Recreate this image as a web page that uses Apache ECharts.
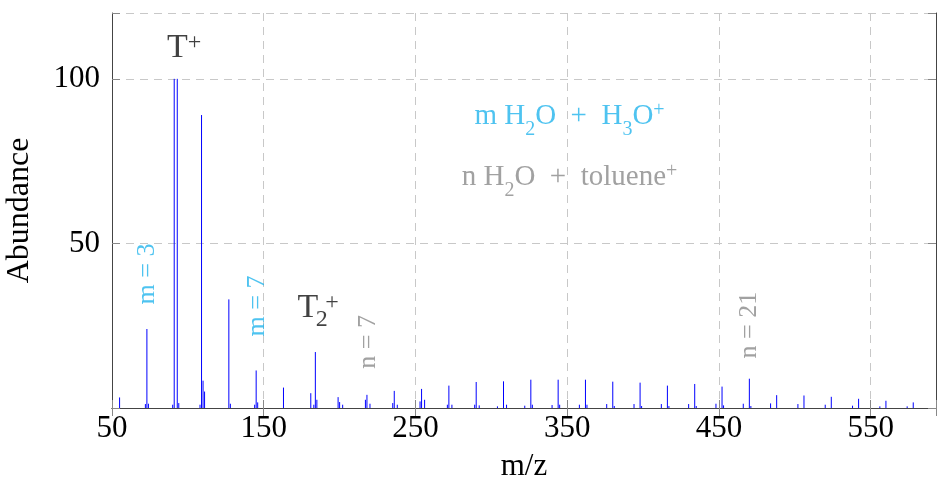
<!DOCTYPE html>
<html><head><meta charset="utf-8">
<script src="https://cdn.jsdelivr.net/npm/echarts@6/dist/echarts.min.js"></script>
<style>html,body{margin:0;padding:0;background:#fff}#c{width:937px;height:489px}</style>
</head><body><div id="c"></div>
<script>
// ---- data ----
const peakMz = [55,72,73,74,90,91,93,94,108,109,110,111,127,128,144,145,146,163,181,183,184,185,
  199,200,202,217,218,220,235,236,238,253,254,256,271,272,274,289,290,292,304,308,310,
  322,326,327,340,344,345,358,362,363,376,380,381,394,398,399,412,416,417,430,434,435,
  448,452,453,466,470,471,484,488,502,506,520,524,538,542,556,560,574,578];
const peakAbundance = [3.2,1.2,24,1.3,1.0,100,100,1.5,1.0,89,8.3,5,33,1.3,1.0,11.4,1.7,6.2,4.5,1.0,17,2.5,
  3.3,1.8,1.0,2.5,4.0,1.3,1.5,5.2,1.0,2.0,5.8,2.5,1.0,6.8,1.0,1.0,7.9,0.8,0.5,8.1,1.0,
  0.7,8.6,1.0,0.9,8.6,1.0,1.0,8.6,1.0,1.2,8.0,0.6,1.2,7.7,0.6,1.2,6.8,0.6,1.2,7.3,0.6,
  1.3,6.5,0.8,1.3,8.9,0.6,1.4,3.9,1.2,3.8,1.0,3.4,0.7,2.8,0.5,2.2,0.5,1.7];
const xTickLabels = [50,150,250,350,450,550];
const yTickLabels = [50,100];
const annotationText = ['{big|T}{bsup|+}', '{a|m H}{sub|2}{a|O\u2002+\u2002H}{sub|3}{a|O}{sup|+}',
  '{a|n H}{sub|2}{a|O\u2002+\u2002toluene}{sup|+}', 'm = 3', 'm = 7', '{big|T}{bsub|2}{bsup|+}', 'n = 7', 'n = 21'];
const annotationMz = [97.6, 351.5, 351.5, 73.3, 145.9, 185.8, 218.5, 469.6];
const annotationAbundance = [109.3, 88.7, 70.1, 40.7, 31, 30.4, 20.1, 25.2];

// ---- styles ----
const FONT = 'Liberation Serif';
const CYAN = '#22b4ec', GRAY = '#8a8a8a', BLACK = '#111';
const annColor = [BLACK, CYAN, GRAY, CYAN, CYAN, BLACK, GRAY, GRAY];
const annRotate = [0, 0, 0, 90, 90, 0, 90, 90];

const rich = {
  a: {fontSize: 29, lineHeight: 44, fontFamily: FONT},
  sub: {fontSize: 20, lineHeight: 44, padding: [27, 0, 0, 0], fontFamily: FONT},
  sup: {fontSize: 20, lineHeight: 44, padding: [0, 0, 11, 0], fontFamily: FONT},
  big: {fontSize: 34, lineHeight: 52, fontFamily: FONT},
  bsub: {fontSize: 24, lineHeight: 52, padding: [23, 0, 0, 0], width: 7, fontFamily: FONT},
  bsup: {fontSize: 24, lineHeight: 52, padding: [0, 0, 11, 0], fontFamily: FONT}
};

const annData = annotationText.map((t, i) => ({
  value: [annotationMz[i], annotationAbundance[i]],
  label: {
    show: true, position: 'inside', formatter: t, color: annColor[i],
    rotate: annRotate[i], fontSize: 26, fontFamily: FONT,
    align: 'center', verticalAlign: 'middle',
    rich: Object.fromEntries(Object.entries(rich).map(([k, v]) => [k, Object.assign({color: annColor[i]}, v)]))
  }
}));

const axisLineStyle = {color: '#444', width: 1};
const tickStyle = {show: true, inside: true, length: 8, lineStyle: {color: '#888', width: 1}};
const splitStyle = {show: true, lineStyle: {color: '#c8c8c8', width: 1, type: [8, 6]}};

const chart = echarts.init(document.getElementById('c'), null, {renderer: 'canvas'});
chart.setOption({
  animation: false,
  backgroundColor: '#fff',
  grid: {left: 112, right: 1, top: 13, bottom: 81, containLabel: false, outerBoundsMode: 'none'},
  xAxis: [{
    type: 'value', min: 50, max: 593, interval: 100, position: 'bottom',
    axisLine: {show: true, lineStyle: axisLineStyle},
    axisTick: tickStyle,
    axisLabel: {fontSize: 31, fontFamily: FONT, color: '#000', margin: 5,
      formatter: v => xTickLabels.includes(v) ? String(v) : ''},
    splitLine: splitStyle,
    name: 'm/z', nameLocation: 'middle', nameGap: 43,
    nameTextStyle: {fontSize: 31, fontFamily: FONT, color: '#000'}
  }, {
    type: 'value', min: 50, max: 593, interval: 100, position: 'top',
    axisLine: {show: true, lineStyle: axisLineStyle},
    axisTick: tickStyle, axisLabel: {show: false}, splitLine: {show: false}
  }],
  yAxis: [{
    type: 'value', min: 0, max: 120, interval: 50, position: 'left',
    axisLine: {show: true, lineStyle: axisLineStyle},
    axisTick: tickStyle,
    axisLabel: {fontSize: 31, fontFamily: FONT, color: '#000', margin: 12,
      formatter: v => yTickLabels.includes(v) ? String(v) : ''},
    splitLine: splitStyle,
    name: 'Abundance', nameLocation: 'middle', nameGap: 76, nameRotate: 90,
    nameTextStyle: {fontSize: 32, fontFamily: FONT, color: '#000'}
  }, {
    type: 'value', min: 0, max: 120, interval: 50, position: 'right',
    axisLine: {show: true, lineStyle: axisLineStyle},
    axisTick: tickStyle, axisLabel: {show: false}, splitLine: {show: false}
  }],
  series: [{
    type: 'custom', xAxisIndex: 0, yAxisIndex: 0, silent: true,
    data: peakMz.map((m, i) => [m, peakAbundance[i]]),
    encode: {x: 0, y: 1},
    renderItem: (params, api) => {
      const p0 = api.coord([api.value(0), 0]);
      const p1 = api.coord([api.value(0), api.value(1)]);
      return {type: 'line', shape: {x1: p0[0], y1: p0[1], x2: p1[0], y2: p1[1]},
        style: {stroke: '#0000ff', lineWidth: 1}};
    }
  }, {
    type: 'scatter', xAxisIndex: 0, yAxisIndex: 0, symbolSize: 1,
    itemStyle: {color: 'rgba(0,0,0,0)'}, silent: true, z: 10,
    data: annData
  }]
});
</script></body></html>
